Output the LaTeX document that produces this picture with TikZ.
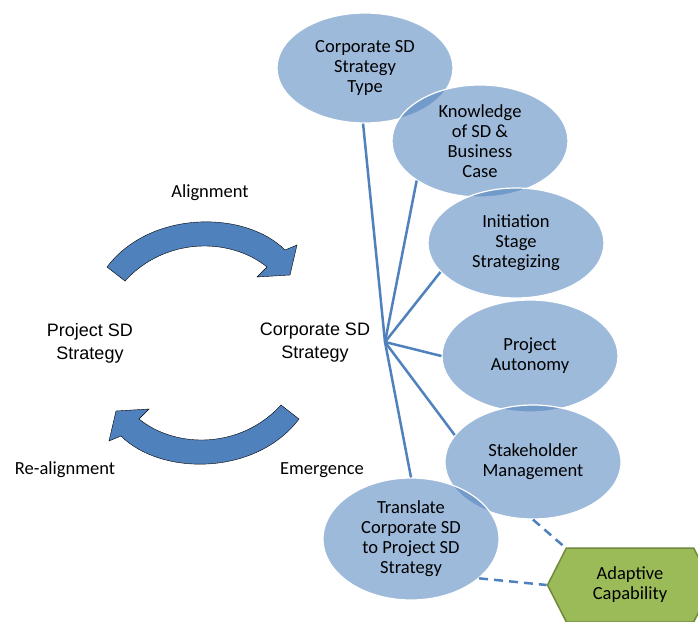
\documentclass[tikz,border=0pt]{standalone}
\usepackage{fontspec}
\setmainfont{Carlito}
\newfontfamily\arialfont{Liberation Sans}
\usetikzlibrary{shapes.geometric,shapes.symbols}
\definecolor{accentblue}{HTML}{4F81BD}
\definecolor{leafgreen}{HTML}{9BBB59}
\definecolor{leafedge}{HTML}{71893F}
\tikzset{
  bubble/.style={ellipse, fill=accentblue, fill opacity=0.55, text opacity=1,
    draw=white, line width=1.2pt, inner sep=0pt, align=center,
    minimum width=176pt, font=\fontsize{18.5}{20}\selectfont},
  spoke/.style={accentblue, line width=2.5pt},
  dashlink/.style={accentblue, line width=2.5pt, dash pattern=on 9pt off 6pt},
  flowarrow/.style={fill=accentblue},
  flowlabel/.style={font=\fontsize{18.5}{20}\selectfont},
  mainlabel/.style={align=center, font=\arialfont\fontsize{18}{23}\selectfont},
  capbox/.style={signal, signal to=west and east, signal pointer angle=126,
    fill=leafgreen, draw=leafedge, line width=1.5pt, align=center,
    minimum width=165pt, minimum height=74pt, inner sep=0pt,
    font=\fontsize{18.5}{20}\selectfont}
}
\begin{document}
\begin{tikzpicture}[x=1pt,y=-1pt]
\useasboundingbox (0,0) rectangle (698,621);

\draw[flowarrow] (107,267) .. controls (150,210) and (245,210) .. (285,250) -- (297,245) -- (290,275) -- (257,277) -- (267,267) .. controls (230,237) and (165,237) .. (125,281) -- cycle;
\draw[flowarrow, rotate around={180:(203,343)}] (107,267) .. controls (150,210) and (245,210) .. (285,250) -- (297,245) -- (290,275) -- (257,277) -- (267,267) .. controls (230,237) and (165,237) .. (125,281) -- cycle;

\node[flowlabel] (align) at (210,193) {Alignment};
\node[flowlabel] (realign) at (65,470) {Re-alignment};
\node[flowlabel] (emerge) at (322,470) {Emergence};

\node[mainlabel] (project) at (90,343) {Project SD\\Strategy};
\node[mainlabel] (corporate) at (315,343) {Corporate SD\\Strategy};
\coordinate (hub) at (385,342);

\node[bubble, minimum height=110pt] (type) at (365,68) {Corporate SD\\Strategy\\Type};
\node[bubble, minimum height=112pt] (knowledge) at (480,141) {Knowledge\\of SD \&\\Business\\Case};
\node[bubble, minimum height=110pt] (initiation) at (516,243) {Initiation\\Stage\\Strategizing};
\node[bubble, minimum height=112pt] (autonomy) at (530,356) {Project\\Autonomy};
\node[bubble, minimum height=114pt] (stakeholder) at (533,462) {Stakeholder\\Management};
\node[bubble, minimum height=122pt] (translate) at (411,539) {Translate\\Corporate SD\\to Project SD\\Strategy};

\node[capbox] (adaptive) at (630,585) {Adaptive\\Capability};

\draw[spoke] (hub) -- (type.268);
\draw[spoke] (hub) -- (knowledge.212);
\draw[spoke] (hub) -- (initiation.201);
\draw[spoke] (hub) -- (autonomy.west);
\draw[spoke] (hub) -- (stakeholder.161);
\draw[spoke] (hub) -- (translate.north);

\draw[dashlink] (stakeholder.south) -- (adaptive.150);
\draw[dashlink] (translate.-30) -- (adaptive.west);
\end{tikzpicture}
\end{document}
